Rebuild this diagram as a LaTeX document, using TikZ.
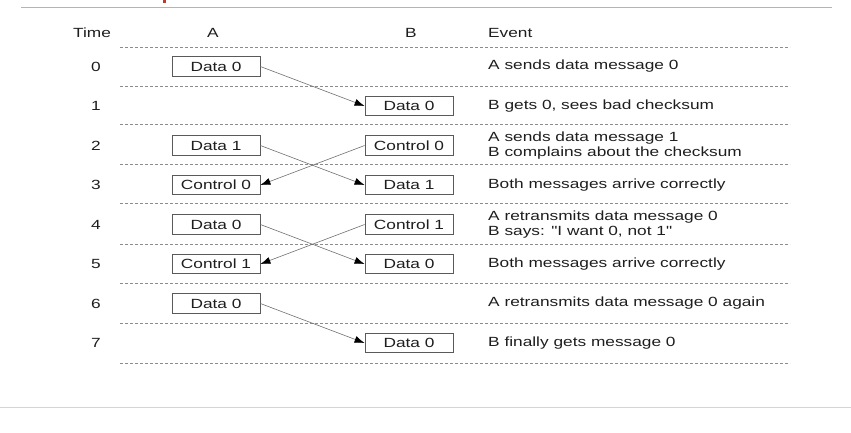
\documentclass[tikz,border=0pt]{standalone}
\usepackage{fontspec}
\setmainfont{Liberation Sans}[FakeStretch=1.3,Ligatures=TeXOff]
\usetikzlibrary{arrows.meta}
\definecolor{rulegray}{HTML}{B4B4B4}
\definecolor{footgray}{HTML}{D4D4D4}
\definecolor{dashgray}{HTML}{8C8C8C}
\definecolor{boxgray}{HTML}{5A5A5A}
\definecolor{linegray}{HTML}{707070}
\definecolor{titlered}{HTML}{C0392B}
\definecolor{inktext}{HTML}{1E1E1E}
\tikzset{
  head/.style={font=\fontsize{13.3}{15}\selectfont,text=inktext},
  txt/.style={font=\fontsize{13.3}{15}\selectfont,text=inktext,align=left,anchor=west,inner sep=0pt},
  msg/.style={draw=boxgray,line width=0.8pt,fill=white,minimum width=88pt,minimum height=19.5pt,inner sep=0pt,font=\fontsize{13.3}{15}\selectfont,text=inktext},
  sep/.style={draw=dashgray,line width=0.8pt,dash pattern=on 3pt off 2pt},
  arr/.style={-{Latex[length=10pt,width=7pt,black]},draw=linegray,line width=0.6pt}
}

\begin{document}
\begin{tikzpicture}[x=1pt,y=-1pt]
\path[use as bounding box] (0,0) rectangle (851,432);
% page rules
\fill[titlered] (162.5,0) rectangle (165.5,3);
\draw[rulegray,line width=1pt] (21,7)--(832,7);
\draw[footgray,line width=1pt] (0,407)--(851,407);

% header
\node[head] (ht) at (92,33) {Time};
\node[head] (ha) at (213,33) {A};
\node[head] (hb) at (411,33) {B};
\node[txt] (he) at (488,33) {Event};

\foreach \y in {47,86,124,164,203,244,283,323,363}{
\draw[sep] (120,\y)--(790,\y);
}
\foreach \k/\y in {0/66.5,1/106,2/145.5,3/185,4/224.5,5/264,6/303.5,7/343}{
\node[head] (t\k) at (96,\y) {\k};
}

% messages
\node[msg] (a0) at (216,66.5) {Data 0};
\node[msg] (b1) at (409,106) {Data 0};
\node[msg] (a2) at (216,145.5) {Data 1};
\node[msg] (b2) at (409,145.5) {Control 0};
\node[msg] (a3) at (216,185) {Control 0};
\node[msg] (b3) at (409,185) {Data 1};
\node[msg] (a4) at (216,224.5) {Data 0};
\node[msg] (b4) at (409,224.5) {Control 1};
\node[msg] (a5) at (216,264) {Control 1};
\node[msg] (b5) at (409,264) {Data 0};
\node[msg] (a6) at (216,303.5) {Data 0};
\node[msg] (b7) at (409,343) {Data 0};
\draw[arr] (a0.east)--(b1.west);
\draw[arr] (a2.east)--(b3.west);
\draw[arr] (b2.west)--(a3.east);
\draw[arr] (a4.east)--(b5.west);
\draw[arr] (b4.west)--(a5.east);
\draw[arr] (a6.east)--(b7.west);

% events
\node[txt] (e0) at (488,66.5) {A sends data message 0};
\node[txt] (e1) at (488,106) {B gets 0, sees bad checksum};
\node[txt] (e2) at (488,145.5) {A sends data message 1\\B complains about the checksum};
\node[txt] (e3) at (488,185) {Both messages arrive correctly};
\node[txt] (e4) at (488,224.5) {A retransmits data message 0\\B says: "I want 0, not 1"};
\node[txt] (e5) at (488,264) {Both messages arrive correctly};
\node[txt] (e6) at (488,303.5) {A retransmits data message 0 again};
\node[txt] (e7) at (488,343) {B finally gets message 0};
\end{tikzpicture}
\end{document}
